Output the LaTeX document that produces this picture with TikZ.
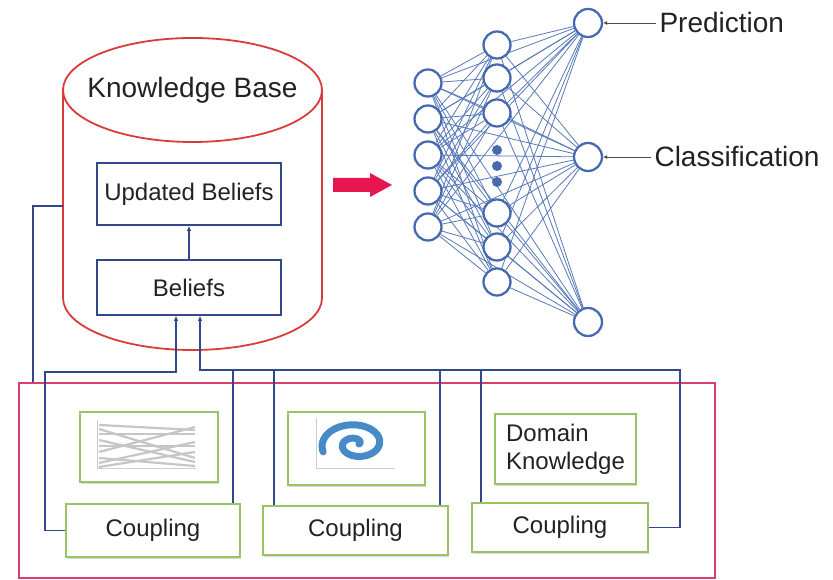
\documentclass[tikz,border=0pt]{standalone}
\usepackage{fontspec}
\setmainfont{Liberation Sans}
\usetikzlibrary{arrows.meta, shadows, backgrounds}

\definecolor{kbred}{RGB}{218,58,58}
\definecolor{poolpink}{RGB}{221,62,112}
\definecolor{navyline}{RGB}{50,72,140}
\definecolor{netblue}{RGB}{70,106,176}
\definecolor{boxgreen}{RGB}{152,196,100}
\definecolor{arrowred}{RGB}{232,22,78}
\definecolor{txt}{RGB}{34,34,34}
\definecolor{scatterblue}{RGB}{38,118,190}

\tikzset{
    belief/.style={draw=navyline, line width=1.7pt, minimum width=184pt, inner sep=0pt},
    source/.style={draw=boxgreen, line width=1.6pt, fill=white, inner sep=0pt,
        drop shadow={shadow xshift=1.2pt, shadow yshift=-1.6pt, opacity=0.3, fill=gray}},
    neuron/.style={circle, draw=netblue, line width=2.3pt, fill=white, minimum size=27pt, inner sep=0pt},
    synapse/.style={netblue!90, line width=0.8pt},
    wire/.style={navyline, line width=1.3pt},
    into/.style={-{Latex[length=5pt,width=4.5pt]}},
    chart/.style={gray!45, line width=2.2pt},
}

\begin{document}
\begin{tikzpicture}[x=1pt, y=1pt, text=txt, font=\fontsize{24}{28}\selectfont]

  \useasboundingbox (0,0) rectangle (833,580);

  % Wissensbasis (Zylinder)
  \draw[kbred, line width=1.8pt] (63,490) -- (63,282)
    arc[start angle=180, end angle=360, x radius=129.5, y radius=52] -- (322,490);
  \draw[kbred, line width=1.8pt] (192.5,490) ellipse [x radius=129.5, y radius=52];
  \node[font=\fontsize{28}{32}\selectfont] (kb) at (192.5,490) {Knowledge Base};

  % Beliefs
  \node[belief, minimum height=62pt] (upd) at (189,386) {Updated Beliefs};
  \node[belief, minimum height=55pt] (bel) at (189,292.5) {Beliefs};
  \draw[wire, into] (bel) -- (upd);

  % Pfeil zum Netz
  \fill[arrowred] (333,388) -- (370,388) -- (370,383) -- (392,395)
    -- (370,407) -- (370,402) -- (333,402) -- cycle;

  % Neuronales Netz
  \foreach \i in {1,...,5}
    \node[neuron] (in\i) at (428,{497-36*(\i-1)}) {};
  \foreach \i/\y in {1/535, 2/502, 3/467, 4/367, 5/333, 6/298}
    \node[neuron] (hid\i) at (497,\y) {};
  \foreach \i/\y in {1/557, 2/423, 3/258}
    \node[neuron, minimum size=28pt] (out\i) at (588,\y) {};
  \foreach \y in {430,414,398}
    \fill[netblue] (497,\y) circle (5);

  \begin{scope}[on background layer]
    \foreach \i in {1,...,5} {
      \foreach \j in {1,...,6}
        \draw[synapse] (in\i) -- (hid\j);
      \foreach \k in {1,2,3}
        \draw[synapse] (in\i) -- (out\k);
    }
    \foreach \j in {1,...,6}
      \foreach \k in {1,2,3}
        \draw[synapse] (hid\j) -- (out\k);
  \end{scope}

  % Ausgaben
  \node[anchor=west, font=\fontsize{28}{32}\selectfont] (pred) at (656,557) {Prediction};
  \node[anchor=west, font=\fontsize{28}{32}\selectfont] (cls) at (651,423) {Classification};
  \draw[gray!60!black, line width=0.6pt, -{Latex[length=4pt,width=4pt]}] (pred.west) -- (out1.east);
  \draw[gray!60!black, line width=0.6pt, -{Latex[length=4pt,width=4pt]}] (cls.west) -- (out2.east);

  % Datenquellen
  \node[draw=poolpink, line width=2pt, minimum width=696pt, minimum height=195pt, inner sep=0pt]
    (pool) at (367,99.5) {};

  \node[source, minimum width=138pt, minimum height=70pt] (img1) at (149,133) {};
  \node[source, minimum width=137pt, minimum height=73pt] (img2) at (356.5,131.5) {};
  \node[source, minimum width=141pt, minimum height=70pt, align=left] (dk) at (565.5,131) {Domain\\Knowledge};

  \node[source, minimum width=174pt, minimum height=53pt] (cpl1) at (153,49.5) {Coupling};
  \node[source, minimum width=185pt, minimum height=49pt] (cpl2) at (355.5,49.5) {Coupling};
  \node[source, minimum width=176pt, minimum height=49pt] (cpl3) at (560,52.5) {Coupling};

  % Liniendiagramm
  \draw[gray!40, line width=0.5pt] (97,160) -- (97,112) -- (196,112);
  \foreach \a/\b in {155/150, 151/122, 146/146, 140/118, 128/153, 122/114, 117/138, 113/128, 134/134}
    \draw[chart] (99,\a) -- (195,\b);

  % Spirale
  \draw[gray!40, line width=0.5pt] (316,162) -- (316,112) -- (394,112);
  \draw[scatterblue, line width=7pt, opacity=0.85, line cap=round]
    plot[domain=0:560, samples=90, smooth, variable=\t]
    ({356+1.5*(2+0.038*\t)*cos(\t)}, {136+(2+0.038*\t)*sin(\t)});

  % Kopplungen
  \coordinate (kbL) at (63,374);
  \draw[wire] (kbL) -- (33,374) -- (33,0 |- pool.north);
  \draw[wire, into] (cpl1.west) -- (45,49.5) -- (45,208) -- (176,208) -- ([xshift=-13pt]bel.south);
  \draw[wire, into] (cpl3.east) -- (680,52.5) -- (680,210) -- (200,210) -- ([xshift=11pt]bel.south);
  \foreach \x/\b in {233/cpl1, 274/cpl2, 440/cpl2, 481/cpl3}
    \draw[wire] (\x,210) -- (\x,0 |- \b.north);

\end{tikzpicture}
\end{document}
